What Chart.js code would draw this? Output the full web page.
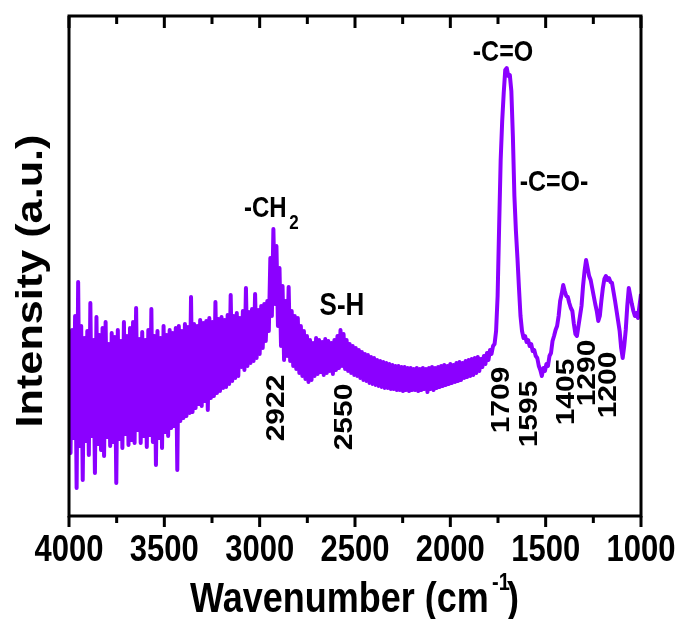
<!DOCTYPE html>
<html>
<head>
<meta charset="utf-8">
<script src="https://cdn.jsdelivr.net/npm/chart.js"></script>
<style>
    html, body { margin: 0; padding: 0; background: #fff; }
    #wrap { width: 679px; height: 619px; }
</style>
</head>
<body>
<div id="wrap"><canvas id="ftir" width="679" height="619"></canvas></div>
<script>
// spectrum sampled every 8 cm-1 from 4000 down to 1000
const wnStart = 4000;
const wnStep = -8;
const intensity = [
    182, 63, 186, 78, 200, 28, 234, 70, 190, 36,
    178, 75, 185, 61, 213, 80, 176, 43, 199, 72,
    181, 66, 188, 60, 194, 79, 172, 70, 183, 74,
    179, 33, 186, 77, 175, 68, 194, 82, 180, 71,
    188, 76, 194, 73, 208, 86, 177, 73, 184, 80,
    176, 69, 186, 81, 207, 74, 180, 51, 185, 78,
    178, 68, 190, 84, 181, 80, 186, 88, 183, 90,
    188, 46, 190, 95, 185, 98, 192, 100, 189, 103,
    219, 104, 192, 108, 190, 112, 196, 110, 193, 115,
    195, 106, 198, 118, 194, 120, 214, 123, 197, 125,
    199, 128, 196, 129, 201, 132, 221, 135, 200, 138,
    203, 140, 198, 149, 205, 146, 228, 150, 204, 153,
    207, 155, 222, 158, 206, 162, 210, 168, 212, 175,
    215, 185, 258, 200, 287, 212, 270, 190, 248, 170,
    230, 156, 215, 160, 229, 155, 205, 150, 200, 147,
    198, 143, 190, 140, 185, 137, 180, 134, 176, 136,
    173, 140, 178, 142, 176, 144, 174, 141, 177, 143,
    175, 145, 173, 142, 176, 146, 180, 148, 186, 150,
    182, 147, 176, 145, 172, 143, 170, 141, 168, 140,
    166, 138, 164, 136, 162, 135, 161, 133, 159, 132,
    158, 131, 156, 130, 155, 129, 154, 128, 153, 128,
    152, 127, 151, 127, 150, 126, 150, 126, 149, 125,
    149, 126, 148, 125, 148, 126, 147, 126, 148, 125,
    147, 126, 148, 127, 147, 124, 148, 127, 149, 126,
    148, 128, 149, 129, 150, 130, 151, 131, 150, 132,
    152, 133, 151, 134, 153, 135, 154, 136, 153, 138,
    155, 139, 156, 140, 157, 141, 158, 143, 159, 145,
    157, 149, 160, 152, 163, 156, 166, 162, 170, 172,
    185, 220, 290, 356, 395, 423, 446, 448, 440, 441,
    425, 380, 320, 285, 258, 228, 200, 185, 178, 180,
    174, 176, 170, 172, 165, 166, 160, 158, 150, 146,
    140, 148, 145, 152, 150, 160, 163, 175, 180, 186,
    190, 200, 215, 222, 231, 225, 220, 219, 213, 208,
    205, 192, 182, 180, 190, 200, 210, 230, 245, 256,
    248, 240, 236, 228, 220, 212, 205, 195, 200, 215,
    228, 237, 240, 236, 238, 234, 233, 224, 215, 205,
    195, 185, 168, 158, 170, 186, 210, 228, 220, 212,
    205, 200, 203, 198, 210, 222
];

const bandNames = ['-CH', 'S-H', '-C=O', '-C=O-'];
const peakNumbers = ['2922', '2550', '1709', '1595', '1405', '1290', '1200'];

// where the texts sit on the canvas
const bandPos = [[244, 209], [342, 306], [503, 53], [554, 183]];
const peakPos = [[277, 408], [345, 417], [502, 400], [530, 414], [567, 392], [588, 373], [609, 385]];

const points = intensity.map((v, i) => ({ x: wnStart + wnStep * i, y: v }));

function stretchText(ctx, txt, x, y, size, rotate, align, baseline) {
    ctx.save();
    ctx.translate(x, y);
    ctx.scale(1, 1.2);
    if (rotate) ctx.rotate(-Math.PI / 2);
    ctx.font = `bold ${size}px "Liberation Sans", Arial, sans-serif`;
    ctx.fillStyle = '#000';
    ctx.textAlign = align || 'center';
    ctx.textBaseline = baseline || 'middle';
    ctx.fillText(txt, 0, 0);
    ctx.restore();
}

const framePlugin = {
    id: 'frame',
    afterDatasetsDraw(chart) {
        const ctx = chart.ctx;
        const a = chart.chartArea;
        const x = chart.scales.x;
        ctx.save();
        ctx.strokeStyle = '#000';
        ctx.lineWidth = 3;
        ctx.strokeRect(a.left, a.top, a.right - a.left, a.bottom - a.top);
        x.ticks.forEach(t => {
            const px = x.getPixelForValue(t.value);
            const major = t.value % 500 === 0;
            ctx.beginPath();
            ctx.moveTo(px, a.bottom);
            ctx.lineTo(px, a.bottom + (major ? 11 : 7));
            ctx.moveTo(px, a.top);
            ctx.lineTo(px, a.top + (major ? 12 : 8));
            ctx.stroke();
            if (major) stretchText(ctx, String(t.value), px, 551, 31, false);
        });
        ctx.restore();

        // band assignments
        bandNames.forEach((s, i) => {
            const size = i === 0 ? 24 : (i === 1 ? 26 : 25);
            stretchText(ctx, s, bandPos[i][0], bandPos[i][1], size, false, i === 0 ? 'left' : 'center');
        });
        stretchText(ctx, '2', 294, 223, 17, false);

        peakNumbers.forEach((s, i) => {
            stretchText(ctx, s, peakPos[i][0], peakPos[i][1], 25, true);
        });

        // axis titles
        stretchText(ctx, 'Intensity (a.u.)', 42, 281, 36, true, 'center', 'alphabetic');
        stretchText(ctx, 'Wavenumber (cm', 190, 612, 36, false, 'left', 'alphabetic');
        stretchText(ctx, '-1', 492, 590, 20, false, 'left', 'alphabetic');
        stretchText(ctx, ')', 507, 612, 36, false, 'left', 'alphabetic');
    }
};

new Chart(document.getElementById('ftir'), {
    type: 'line',
    data: {
        datasets: [{
            data: points,
            borderColor: '#8b00ff',
            borderWidth: 4,
            borderJoinStyle: 'round',
            pointRadius: 0,
            tension: 0,
            fill: false
        }]
    },
    options: {
        responsive: false,
        animation: false,
        layout: { padding: { left: 69, right: 38, top: 16, bottom: 0 } },
        plugins: { legend: { display: false }, tooltip: { enabled: false } },
        scales: {
            x: {
                type: 'linear',
                reverse: true,
                min: 1000,
                max: 4000,
                grid: { display: false, drawTicks: false },
                border: { display: false },
                ticks: {
                    stepSize: 250,
                    autoSkip: false,
                    maxRotation: 0,
                    display: false
                },
                afterFit: s => { s.height = 103; }
            },
            y: {
                display: false,
                min: 0,
                max: 500
            }
        }
    },
    plugins: [framePlugin]
});
</script>
</body>
</html>
